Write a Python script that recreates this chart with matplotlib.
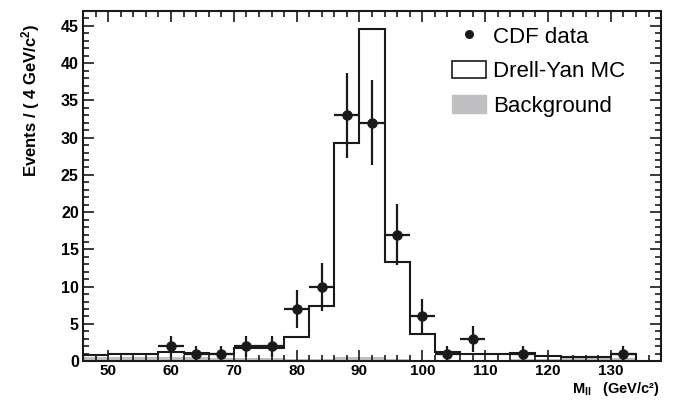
import numpy as np
import matplotlib.pyplot as plt
from matplotlib.lines import Line2D
from matplotlib.patches import Patch
from matplotlib.ticker import MultipleLocator

plt.rcParams['font.family'] = ['Liberation Sans', 'DejaVu Sans']
plt.rcParams['mathtext.fontset'] = 'custom'
plt.rcParams['mathtext.rm'] = 'Liberation Sans:bold'
plt.rcParams['mathtext.it'] = 'Liberation Sans:bold'
plt.rcParams['mathtext.bf'] = 'Liberation Sans:bold'

# 4 GeV bins from 46 to 134
bin_edges = np.arange(46, 138, 4)

# Drell-Yan MC (total) per bin
mc_counts = [0.8, 0.9, 1.0, 1.2, 1.1, 1.0, 1.8, 1.8, 3.2, 7.4, 29.3, 44.6,
             13.3, 3.7, 1.2, 1.0, 0.9, 1.1, 0.7, 0.5, 0.5, 0.9]
# background per bin
bkg_counts = [0.6, 0.6, 0.5, 0.5, 0.5, 0.4, 0.4, 0.4, 0.3, 0.3, 0.5, 0.5,
              0.3, 0.2, 0.2, 0.2, 0.2, 0.3, 0.3, 0.4, 0.4, 0.4]

# CDF data (non-empty bins)
data_mass = [60, 64, 68, 72, 76, 80, 84, 88, 92, 96, 100, 104, 108, 116, 132]
data_counts = [2, 1, 1, 2, 2, 7, 10, 33, 32, 17, 6, 1, 3, 1, 1]
data_err = [1.4, 1.0, 1.0, 1.4, 1.4, 2.6, 3.2, 5.7, 5.7, 4.1, 2.4, 1.0, 1.7, 1.0, 1.0]

fig = plt.figure(figsize=(6.83, 4.0), dpi=100)
ax = fig.add_axes([0.1215, 0.097, 0.8465, 0.8755])

ax.stairs(bkg_counts, bin_edges, fill=True, color='#c0c0c2', zorder=1)
ax.stairs(mc_counts, bin_edges, color='#1a1a1a', lw=1.5, zorder=2)
ax.errorbar(data_mass, data_counts, xerr=2, yerr=data_err, fmt='o',
            color='#1a1a1a', ms=6.5, lw=1.6, capsize=0, zorder=3)

ax.set_xlim(46, 138)
ax.set_ylim(0, 47)
ax.xaxis.set_major_locator(MultipleLocator(10))
ax.xaxis.set_minor_locator(MultipleLocator(2))
ax.yaxis.set_major_locator(MultipleLocator(5))
ax.yaxis.set_minor_locator(MultipleLocator(1))
ax.tick_params(which='both', direction='in', top=True, right=True,
               width=1.2, color='#1a1a1a')
ax.tick_params(which='major', length=8, labelsize=11.5, pad=3)
ax.tick_params(axis='x', which='major', labelsize=11, pad=2)
ax.tick_params(which='minor', length=4)
for lab in ax.get_xticklabels() + ax.get_yticklabels():
    lab.set_fontweight('bold')
for sp in ax.spines.values():
    sp.set_linewidth(1.5)
    sp.set_color('#1a1a1a')

ax.set_ylabel(r'Events / ( 4 GeV/c$^{2}$)', fontsize=12, fontweight='bold')
ax.yaxis.set_label_coords(-0.071, 0.745)
ax.set_xlabel(r'M$_{\rm ll}$   (GeV/c²)', fontsize=10.5, fontweight='bold')
ax.xaxis.set_label_coords(0.998, -0.055)
ax.xaxis.label.set_horizontalalignment('right')
ax.xaxis.label.set_verticalalignment('top')

handles = [Line2D([], [], marker='o', color='#1a1a1a', ls='none', ms=5.5),
           Patch(facecolor='white', edgecolor='#1a1a1a', lw=1.2),
           Patch(facecolor='#c0c0c2', edgecolor='#c0c0c2')]
ax.legend(handles, ['CDF data', 'Drell-Yan MC', 'Background'],
          loc='upper left', bbox_to_anchor=(0.638, 0.957), frameon=False,
          borderpad=0, borderaxespad=0, fontsize=16, handlelength=1.53,
          handleheight=0.86, handletextpad=0.32, labelspacing=0.58)

fig.savefig('out.png', dpi=100)
